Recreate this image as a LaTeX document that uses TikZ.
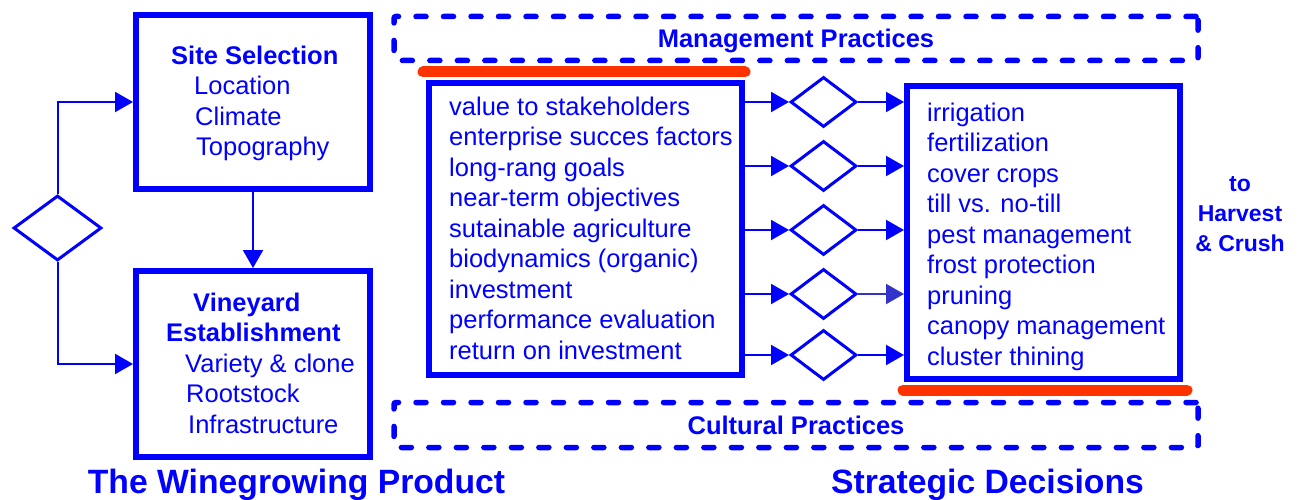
\documentclass[tikz,border=0pt]{standalone}
\usepackage{fontspec}
\setmainfont{Liberation Sans}
\usetikzlibrary{arrows.meta,positioning,shapes.geometric,calc}
\definecolor{dblue}{RGB}{0,0,255}
\definecolor{hred}{RGB}{255,51,0}
\definecolor{pblue}{RGB}{51,51,204}

\begin{document}
\begin{tikzpicture}[x=1pt,y=-1pt,
  bigbox/.style={draw=dblue,line width=6pt,inner sep=0pt},
  dashbox/.style={draw=dblue,line width=5.5pt,dash pattern=on 10pt off 17.5pt,line cap=round,
    rounded corners=2pt,inner sep=0pt,minimum width=804pt,text=dblue,text depth=0pt,
    font=\fontsize{25.5}{30}\selectfont\bfseries},
  choice/.style={diamond,draw=dblue,line width=3pt,inner sep=0pt,minimum width=66pt,minimum height=50pt},
  txt/.style={text=dblue,inner sep=0pt,align=left,font=\fontsize{25.5}{30.5}\selectfont},
  flow/.style={draw=dblue,line width=2pt,-{Triangle[length=18pt,width=20pt]}},
  heading/.style={text=dblue,inner sep=0pt,font=\fontsize{33.7}{40}\selectfont\bfseries},
  redbar/.style={draw=hred,line width=11pt,line cap=round}]
                \useasboundingbox (0,0) rectangle (1297,500);
                % draw boxes on the left
                \node[bigbox,minimum width=234pt,minimum height=174pt] (site) at (253,102) {};
                \node[bigbox,minimum width=234pt,minimum height=186pt] (vine) at (253,364) {};
                \node[txt,anchor=west] (sitetxt) at (171,103.5)
                  {\textbf{Site Selection}\\\hspace*{23pt}Location\\\hspace*{24pt}Climate\\\hspace*{25pt}Topography};
                \node[txt,anchor=west] (vinetxt) at (166,363)
                  {\hspace*{27pt}\textbf{Vineyard}\\\textbf{Establishment}\\\hspace*{19pt}Variety \& clone\\\hspace*{20pt}Rootstock\\\hspace*{22pt}Infrastructure};
                % draw decision on the left
                \node[choice,minimum width=88pt,minimum height=65pt] (ldia) at (57.5,228) {};
                \draw[flow] (ldia.north) |- (site.west);
                \draw[flow] (ldia.south) |- (vine.west);
                \draw[flow] (site) -- (vine);
                % draw dashed boxes
                \node[dashbox,minimum height=44pt] (mgmt) at (796,38.5) {Management Practices};
                \node[dashbox,minimum height=45pt] (cult) at (796,425) {Cultural Practices};
                % draw boxes in the middle and on the right
                \node[bigbox,minimum width=313pt,minimum height=292pt] (goals) at (585.5,229) {};
                \node[txt,anchor=west] (goalstxt) at (449,228)
                  {value to stakeholders\\enterprise succes factors\\long-rang goals\\near-term objectives\\sutainable agriculture\\biodynamics (organic)\\investment\\performance evaluation\\return on investment};
                \node[bigbox,minimum width=273pt,minimum height=293pt] (prac) at (1043.5,232.5) {};
                \node[txt,anchor=west] (practxt) at (927,236.5)
                  {irrigation\\fertilization\\cover crops\\till vs. no-till\\pest management\\frost protection\\pruning\\canopy management\\cluster thining};
                \draw[redbar] (423,72) -- (745,72);
                \draw[redbar] (903,390) -- (1187,390);
                % draw decisions between the boxes
                \foreach \i/\y/\c in {1/102/dblue,2/166/dblue,3/230/dblue,4/294/pblue,5/355/dblue}
                {
                  \node[choice] (d\i) at (823.5,\y) {};
                  \draw[flow] (goals.east |- d\i.west) -- (d\i.west);
                  \draw[flow,draw=\c] (d\i.east) -- (prac.west |- d\i.east);
                }
                % draw texts
                \node[txt,align=center,font=\fontsize{23}{30}\selectfont\bfseries] (harv) at (1240,214) {to\\Harvest\\\& Crush};
                \node[heading] (prod) at (296.5,485) {The Winegrowing Product};
                \node[heading] (strat) at (987.5,485) {Strategic Decisions};
\end{tikzpicture}
\end{document}
